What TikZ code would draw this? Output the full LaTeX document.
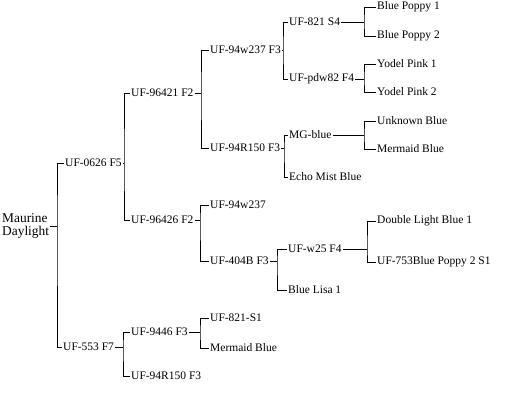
\documentclass[tikz,border=0pt]{standalone}
\usepackage{fontspec}
\setmainfont{Liberation Serif}
\usepackage{tikz}

\begin{document}
\begin{tikzpicture}[
    x=1pt, y=-1pt,
    lbl/.style={anchor=west, inner sep=1pt, font=\fontsize{11.5}{13}\selectfont},
    link/.style={draw=black, line width=0.9pt}
]
    \useasboundingbox (0,0) rectangle (505,402);

    % Root
    \node[lbl, align=left, font=\fontsize{13.4}{13.5}\selectfont] (md) at (1,226) {Maurine\\Daylight};
    \coordinate (b0) at (57,226);

    % Generation 1
    \node[lbl] (u0626) at (64,163) {UF-0626 F5};
    \node[lbl] (u553) at (62,347) {UF-553 F7};
    \coordinate (b1) at (124,163);
    \coordinate (b10) at (123,347);

    % Generation 2
    \node[lbl] (u96421) at (130,93) {UF-96421 F2};
    \node[lbl] (u96426) at (130,220) {UF-96426 F2};
    \node[lbl] (u9446) at (130,332) {UF-9446 F3};
    \node[lbl] (u94R150b) at (130,376) {UF-94R150 F3};
    \coordinate (b2) at (201,93);
    \coordinate (b8) at (200,220);
    \coordinate (b12) at (200,332);

    % Generation 3
    \node[lbl] (u94w237) at (209,50) {UF-94w237 F3};
    \node[lbl] (u94R150) at (209,148) {UF-94R150 F3};
    \node[lbl] (u94w237b) at (209,205) {UF-94w237};
    \node[lbl] (u404) at (209,261) {UF-404B F3};
    \node[lbl] (u821s1) at (209,318) {UF-821-S1};
    \node[lbl] (mb2) at (209,348) {Mermaid Blue};
    \coordinate (b3) at (283,50);
    \coordinate (b6) at (284,148);
    \coordinate (b9) at (277,261);

    % Generation 4 (some labels keep their trailing gap)
    \node[lbl] (u821) at (288,22) {UF-821 S4\hspace{4pt}};
    \node[lbl] (updw) at (288,79) {UF-pdw82 F4};
    \node[lbl] (mg) at (288,135) {MG-blue\hspace{6pt}};
    \node[lbl] (echo) at (288,177) {Echo Mist Blue};
    \node[lbl] (w25) at (287,249) {UF-w25 F4\hspace{5pt}};
    \node[lbl] (blisa) at (287,290) {Blue Lisa 1};
    \coordinate (b4) at (364,22);
    \coordinate (b5) at (364,79);
    \coordinate (b7) at (364,135);
    \coordinate (b11) at (367,249);

    % Generation 5
    \node[lbl] (bp1) at (376,7) {Blue Poppy 1};
    \node[lbl] (bp2) at (376,36) {Blue Poppy 2};
    \node[lbl] (yp1) at (376,64) {Yodel Pink 1};
    \node[lbl] (yp2) at (376,92) {Yodel Pink 2};
    \node[lbl] (ub) at (376,121) {Unknown Blue};
    \node[lbl] (mb1) at (376,149) {Mermaid Blue};
    \node[lbl] (dlb1) at (376,221) {Double Light Blue 1};
    \node[lbl] (u753) at (376,262) {UF-753Blue Poppy 2 S1};

    % Brackets
    \draw[link] (md) -- (b0);
    \draw[link] (u0626.west) -| (b0) |- (u553.west);

    \draw[link] (u0626) -- (b1);
    \draw[link] (u96421.west) -| (b1) |- (u96426.west);
    \draw[link] (u553) -- (b10);
    \draw[link] (u9446.west) -| (b10) |- (u94R150b.west);

    \draw[link] (u96421) -- (b2);
    \draw[link] (u94w237.west) -| (b2) |- (u94R150.west);
    \draw[link] (u96426) -- (b8);
    \draw[link] (u94w237b.west) -| (b8) |- (u404.west);
    \draw[link] (u9446) -- (b12);
    \draw[link] (u821s1.west) -| (b12) |- (mb2.west);

    \draw[link] (u94w237) -- (b3);
    \draw[link] (u821.west) -| (b3) |- (updw.west);
    \draw[link] (u94R150) -- (b6);
    \draw[link] (mg.west) -| (b6) |- (echo.west);
    \draw[link] (u404) -- (b9);
    \draw[link] (w25.west) -| (b9) |- (blisa.west);

    \draw[link] (u821) -- (b4);
    \draw[link] (bp1.west) -| (b4) |- (bp2.west);
    \draw[link] (updw) -- (b5);
    \draw[link] (yp1.west) -| (b5) |- (yp2.west);
    \draw[link] (mg) -- (b7);
    \draw[link] (ub.west) -| (b7) |- (mb1.west);
    \draw[link] (w25) -- (b11);
    \draw[link] (dlb1.west) -| (b11) |- (u753.west);
\end{tikzpicture}
\end{document}
